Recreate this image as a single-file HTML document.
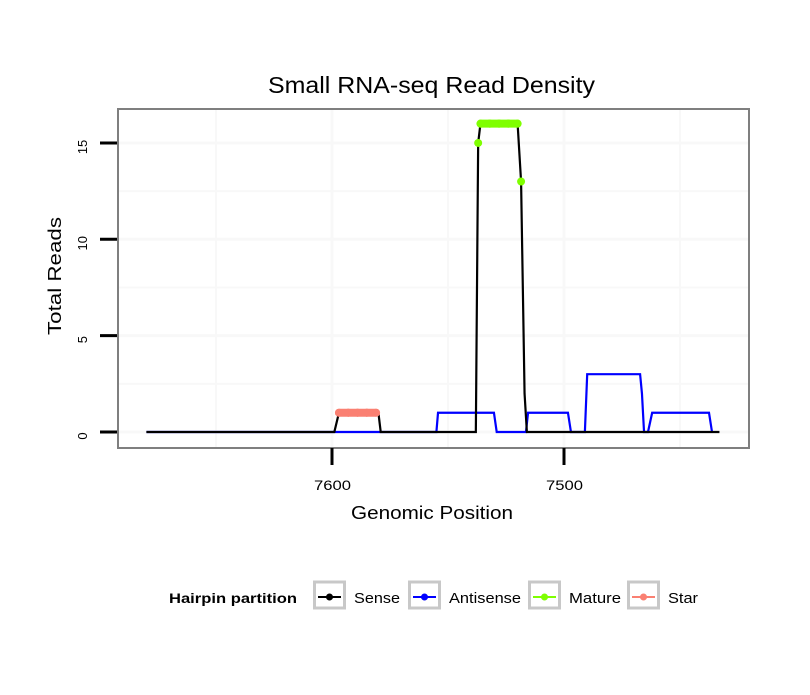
<!DOCTYPE html>
<html><head><meta charset="utf-8"><style>
body{margin:0;background:#fff;}
svg text{font-family:"Liberation Sans",sans-serif;}
</style></head><body>
<svg id="c" width="810" height="690">
<rect width="810" height="690" fill="#fff"/>
<text x="268" y="93" font-size="23" textLength="327" lengthAdjust="spacingAndGlyphs">Small RNA-seq Read Density</text>
<rect x="118" y="109" width="631" height="339" fill="#fff"/>
<g id="grid"></g>
<g id="series"></g>
<rect x="118" y="109" width="631" height="339" fill="none" stroke="#7f7f7f" stroke-width="2"/>
<g id="axes"></g>
<text x="351" y="519" font-size="18" textLength="162" lengthAdjust="spacingAndGlyphs">Genomic Position</text>
<text transform="translate(61,335) rotate(-90)" font-size="18" textLength="118" lengthAdjust="spacingAndGlyphs">Total Reads</text>
<g id="legend">
<text x="169" y="603" font-size="14" font-weight="bold" textLength="128" lengthAdjust="spacingAndGlyphs">Hairpin partition</text>
</g>
</svg>
<script>
const xTicks=[7600,7500];
const xMinor=[7650,7550,7450];
const yTicks=[0,5,10,15];
const senseX=[7680,7599,7597,7580,7579,7538,7537,7536,7520,7518.5,7517,7516,7433];
const senseY=[0,0,1,1,0,0,15,16,16,13,2,0,0];
const antiX=[7680,7599,7579,7555,7554.3,7530.2,7529,7516.4,7515.5,7498.3,7497,7491,7490,7467.2,7466.4,7465.5,7463.8,7462,7437.5,7436.2];
const antiY=[0,0,0,0,1,1,0,0,1,1,0,0,3,3,2,0,0,1,1,0];
const matureX=[7537,7536,7532,7528,7524,7520,7518.5];
const matureY=[15,16,16,16,16,16,13];
const starX=[7597,7593,7589,7585,7581];
const starY=[1,1,1,1,1];
const seriesNames=["Sense","Antisense","Mature","Star"];
const seriesColors=["#000","#0000ff","#7fff00","#fa8072"];
const labelW=[46,72,52,30];

function sx(v){return 332+(7600-v)*2.32;}
function sy(v){return 432-v*19.27;}
const NS="http://www.w3.org/2000/svg";
function mk(tag,attrs,parent){const e=document.createElementNS(NS,tag);for(const k in attrs)e.setAttribute(k,attrs[k]);parent.appendChild(e);return e;}
const grid=document.getElementById('grid'),ser=document.getElementById('series'),ax=document.getElementById('axes'),lg=document.getElementById('legend');
xMinor.concat(xTicks).forEach(v=>{const l=mk('line',{x1:sx(v),x2:sx(v),y1:110,y2:447,stroke:'#f8f8f8','stroke-width':xTicks.includes(v)?3:2},grid);

});
[2.5,7.5,12.5].concat(yTicks).forEach(v=>{const l=mk('line',{x1:119,x2:748,y1:sy(v),y2:sy(v),stroke:'#f8f8f8','stroke-width':yTicks.includes(v)?3:2},grid);

});
xTicks.forEach(v=>{const t=mk('line',{x1:sx(v),x2:sx(v),y1:448,y2:465,stroke:'#000','stroke-width':3},ax);


const tx=mk('text',{x:sx(v)-18,y:490,'font-size':14,textLength:37,lengthAdjust:'spacingAndGlyphs'},ax);tx.textContent=v;

});
yTicks.forEach(v=>{const t=mk('line',{x1:100,x2:117,y1:sy(v),y2:sy(v),stroke:'#000','stroke-width':3},ax);


const tx=mk('text',{transform:`translate(87,${sy(v)+4}) rotate(-90)`,'font-size':13,'text-anchor':'middle'},ax);tx.textContent=v;

});
function line(xs,ys,col,name){const p=mk('polyline',{points:xs.map((x,i)=>sx(x)+','+sy(ys[i])).join(' '),fill:'none',stroke:col,'stroke-width':2.2},ser);

}
function pts(xs,ys,col,name){const g=mk('g',{},ser);


for(let i=0;i<xs.length;i++){if(i>0&&ys[i]===ys[i-1]){mk('line',{x1:sx(xs[i-1]),x2:sx(xs[i]),y1:sy(ys[i]),y2:sy(ys[i]),stroke:col,'stroke-width':8,'stroke-linecap':'round'},g);}
mk('circle',{cx:sx(xs[i]),cy:sy(ys[i]),r:4,fill:col},g);}}
line(antiX,antiY,seriesColors[1],'antisense-line');
line(senseX,senseY,seriesColors[0],'sense-line');
pts(matureX,matureY,seriesColors[2],'mature-points');
pts(starX,starY,seriesColors[3],'star-points');
const keyX=[313,408,528,627];
seriesNames.forEach((n,i)=>{const g=mk('g',{},lg);


mk('rect',{x:keyX[i]+1.5,y:582,width:30,height:26,fill:'#fff',stroke:'#c8c8c8','stroke-width':3},g);
mk('line',{x1:keyX[i]+5,x2:keyX[i]+28,y1:597,y2:597,stroke:seriesColors[i],'stroke-width':2},g);
mk('circle',{cx:keyX[i]+16.5,cy:597,r:3.5,fill:seriesColors[i]},g);
const t=mk('text',{x:keyX[i]+41,y:603,'font-size':15,textLength:labelW[i],lengthAdjust:'spacingAndGlyphs'},g);t.textContent=n;});
</script>
</body></html>
